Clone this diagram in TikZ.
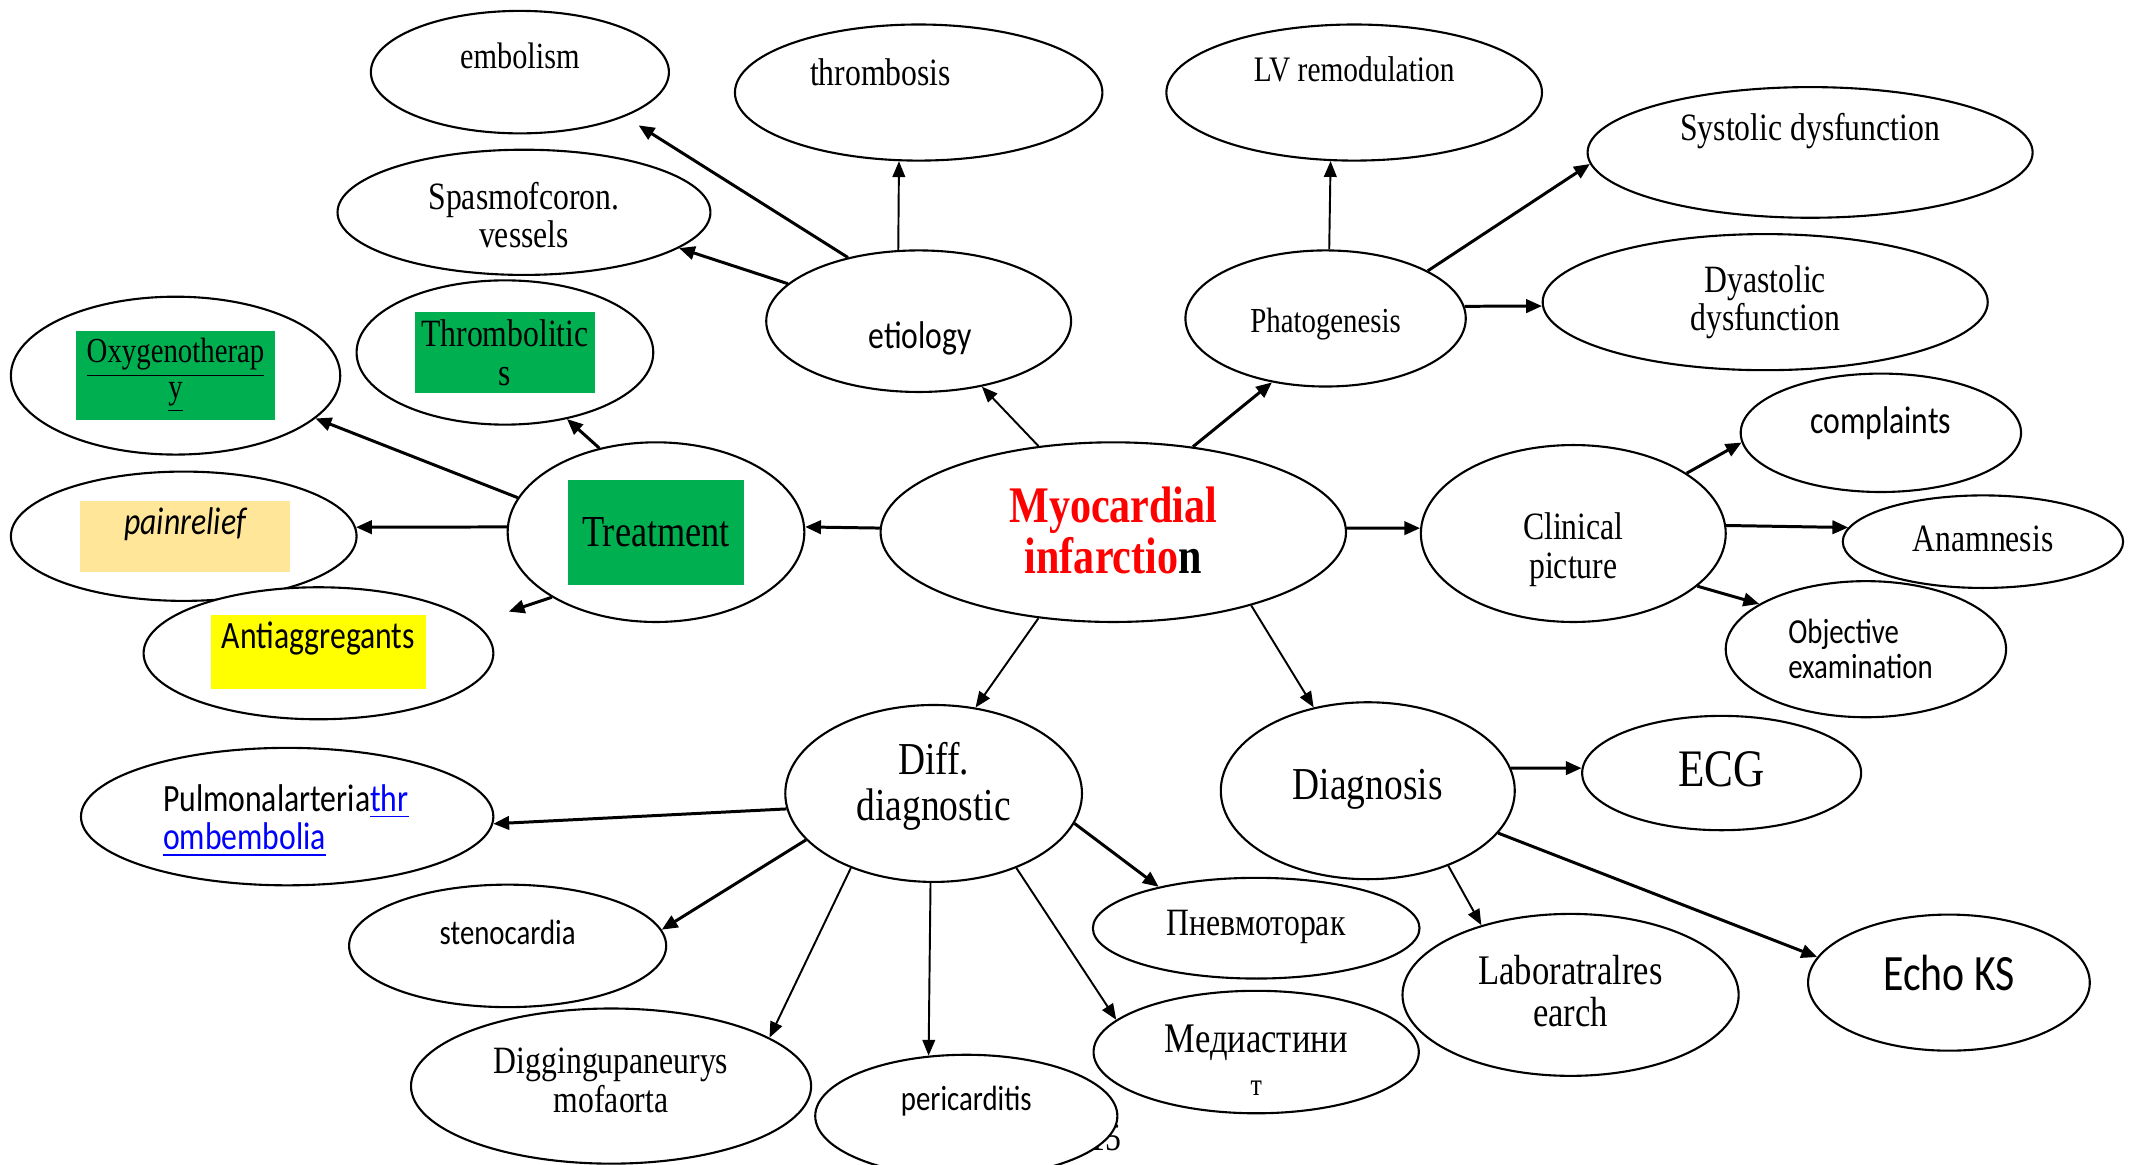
\documentclass[tikz,border=0pt]{standalone}
\usepackage{fontspec}
\setmainfont{Liberation Serif}[FakeStretch=0.82]
\newfontfamily\calib{Carlito}[FakeStretch=0.82]
\usetikzlibrary{shapes.geometric,arrows.meta}
\definecolor{boxgreen}{HTML}{00B050}
\definecolor{boxpeach}{HTML}{FFE699}
\definecolor{boxyellow}{HTML}{FFFF00}
\definecolor{linkblue}{HTML}{0000FF}
\definecolor{mired}{HTML}{FF0000}
\newdimen\pxu \pxu=0.01361cm
\newcommand{\fsz}[1]{\fontsize{#1}{#1}\selectfont}
\tikzset{
  bubble/.style={ellipse, draw=black, line width=0.6pt, fill=white, inner sep=0pt},
  serifLbl/.style={font=\fsz{11}, align=center, inner sep=0pt},
  sansLbl/.style={font=\calib\fsz{11}, align=center, inner sep=0pt},
  colorBox/.style={rectangle, inner sep=0pt, align=center},
  arrowLn/.style={line width=0.85pt, -{Triangle[length=4.5pt,width=3.8pt]}},
  thinArrow/.style={line width=0.55pt, -{Triangle[length=4.5pt,width=3.6pt]}},
}

\begin{document}
\begin{tikzpicture}[x=0.01361cm, y=-0.01361cm]
  \path[use as bounding box, fill=white] (0,0) rectangle (1568,856);

  \node[serifLbl] (pagenum) at (812,836) {15};

  % etiology branch
  \node[bubble, minimum width=219\pxu, minimum height=90\pxu]  (embolism)   at (382,53)  {};
  \node[bubble, minimum width=270\pxu, minimum height=100\pxu] (thrombosis) at (675,68)  {};
  \node[bubble, minimum width=274\pxu, minimum height=92\pxu]  (spasm)      at (385,156) {};
  \node[bubble, minimum width=224\pxu, minimum height=104\pxu] (etiology)   at (675,236) {};

  % pathogenesis branch
  \node[bubble, minimum width=276\pxu, minimum height=100\pxu] (lvremod)   at (995,68)   {};
  \node[bubble, minimum width=327\pxu, minimum height=96\pxu]  (systolic)  at (1330,112) {};
  \node[bubble, minimum width=206\pxu, minimum height=100\pxu] (phatog)    at (974,234)  {};
  \node[bubble, minimum width=327\pxu, minimum height=100\pxu] (dyastolic) at (1297,222) {};

  % treatment branch
  \node[bubble, minimum width=218\pxu, minimum height=106\pxu] (thromb)    at (371,259) {};
  \node[bubble, minimum width=242\pxu, minimum height=116\pxu] (oxygen)    at (129,276) {};
  \node[bubble, minimum width=218\pxu, minimum height=132\pxu] (treatment) at (482,391) {};
  \node[bubble, minimum width=254\pxu, minimum height=95\pxu]  (pain)      at (135,394) {};
  \node[bubble, minimum width=257\pxu, minimum height=97\pxu]  (antiagg)   at (234,480) {};

  \node[bubble, minimum width=342\pxu, minimum height=132\pxu] (myo) at (818,391) {};

  % clinical picture branch
  \node[bubble, minimum width=224\pxu, minimum height=130\pxu] (clinical)   at (1156,392) {};
  \node[bubble, minimum width=206\pxu, minimum height=87\pxu]  (complaints) at (1382,318) {};
  \node[bubble, minimum width=206\pxu, minimum height=68\pxu]  (anamnesis)  at (1457,398) {};
  \node[bubble, minimum width=206\pxu, minimum height=100\pxu] (objective)  at (1371,477) {};

  % diagnosis branch
  \node[bubble, minimum width=216\pxu, minimum height=130\pxu] (diagnosis) at (1005,581) {};
  \node[bubble, minimum width=205\pxu, minimum height=84\pxu]  (ecg)       at (1265,568) {};
  \node[bubble, minimum width=247\pxu, minimum height=119\pxu] (lab)       at (1154,731) {};
  \node[bubble, minimum width=207\pxu, minimum height=100\pxu] (echo)      at (1432,722) {};

  % differential diagnostic branch
  \node[bubble, minimum width=218\pxu, minimum height=130\pxu] (diff)     at (686,583) {};
  \node[bubble, minimum width=303\pxu, minimum height=101\pxu] (pulmonal) at (211,600) {};
  \node[bubble, minimum width=233\pxu, minimum height=90\pxu]  (steno)    at (373,695) {};
  \node[bubble, minimum width=240\pxu, minimum height=74\pxu]  (pneumo)   at (923,682) {};
  \node[bubble, minimum width=294\pxu, minimum height=114\pxu] (digging)  at (449,798) {};
  \node[bubble, minimum width=239\pxu, minimum height=90\pxu]  (mediast)  at (923,773) {};
  \node[bubble, minimum width=222\pxu, minimum height=90\pxu]  (pericard) at (710,820) {};

  % texts
  \node[serifLbl, font=\fsz{10.5}] (embolism-t)   at (382,41)  {embolism};
  \node[serifLbl]                  (thrombosis-t) at (647,53)  {thrombosis};
  \node[serifLbl]                  (spasm-t)      at (385,158) {Spasmofcoron.\\vessels};
  \node[sansLbl]                   (etiology-t)   at (676,249) {etiology};
  \node[serifLbl, font=\fsz{10.2}] (lvremod-t)    at (995,51)  {LV remodulation};
  \node[serifLbl]                  (systolic-t)   at (1330,96) {Systolic dysfunction};
  \node[serifLbl, font=\fsz{10}]   (phatog-t)     at (974,238) {Phatogenesis};
  \node[serifLbl]                  (dyastolic-t)  at (1297,222) {Dyastolic\\dysfunction};

  \node[colorBox, fill=boxgreen, minimum width=132\pxu, minimum height=60\pxu, font=\fsz{11}]
    (thromb-box) at (371,259) {Thrombolitic\\s};
  \node[colorBox, fill=boxgreen, minimum width=146\pxu, minimum height=65\pxu, font=\fsz{10}]
    (oxygen-box) at (129,276) {\underline{Oxygenotherap}\\\underline{y}};
  \node[colorBox, fill=boxgreen, minimum width=130\pxu, minimum height=77\pxu, font=\fsz{12.6}]
    (treatment-box) at (482,391) {Treatment};
  \node[colorBox, fill=boxpeach, minimum width=154\pxu, minimum height=52\pxu] (pain-box) at (136,394) {};
  \node[sansLbl, font=\calib\itshape\fsz{11}] (pain-t) at (136,385) {painrelief};
  \node[colorBox, fill=boxyellow, minimum width=158\pxu, minimum height=54\pxu] (antiagg-box) at (234,479) {};
  \node[sansLbl] (antiagg-t) at (234,469) {Antiaggregants};

  \node[serifLbl, font=\bfseries\fsz{14.6}] (myo-t) at (818,390)
    {\textcolor{mired}{Myocardial}\\\textcolor{mired}{infarctio}n};

  \node[serifLbl]                          (clinical-t)   at (1156,404) {Clinical\\picture};
  \node[sansLbl]                           (complaints-t) at (1382,311) {complaints};
  \node[serifLbl]                          (anamnesis-t)  at (1457,396) {Anamnesis};
  \node[sansLbl, font=\calib\fsz{10}, align=left] (objective-t) at (1367,477) {Objective\\examination};

  \node[serifLbl, font=\fsz{13}] (diagnosis-t) at (1005,580) {Diagnosis};
  \node[serifLbl, font=\fsz{15}] (ecg-t)       at (1265,565) {ECG};
  \node[serifLbl, font=\fsz{12}] (lab-t)       at (1154,728) {Laboratralres\\earch};
  \node[sansLbl, font=\calib\fsz{14.5}] (echo-t) at (1432,715) {Echo KS};

  \node[serifLbl, font=\fsz{13}] (diff-t) at (686,578) {Diff.\\diagnostic};
  \node[sansLbl, align=left] (pulmonal-t) at (210,603)
    {Pulmonalarteria\textcolor{linkblue}{\underline{thr}}\\\textcolor{linkblue}{\underline{ombembolia}}};
  \node[sansLbl, font=\calib\fsz{10}] (steno-t)    at (373,685) {stenocardia};
  \node[serifLbl]                     (pneumo-t)   at (923,681) {Пневмоторак};
  \node[serifLbl]                     (digging-t)  at (449,794) {Diggingupaneurys\\mofaorta};
  \node[sansLbl, font=\calib\fsz{10}] (pericard-t) at (710,809) {pericarditis};
  \node[serifLbl, font=\fsz{12}]      (mediast-t)  at (923,779) {Медиастини\\{\fsz{9}т}};

  % connectors
  \draw[arrowLn, shorten >=12\pxu] (etiology.138) -- (embolism.-23);
  \draw[thinArrow] (etiology.106) -- (thrombosis.-106);
  \draw[arrowLn]   (etiology.164) -- (spasm.-13);
  \draw[thinArrow] (myo.131) -- (etiology.-46);
  \draw[arrowLn]   (myo.47) -- (phatog.-130);
  \draw[thinArrow] (phatog.87) -- (lvremod.-109);
  \draw[arrowLn]   (phatog.25) -- (systolic.-177);
  \draw[arrowLn]   (phatog.5) -- (dyastolic.181);
  \draw[arrowLn]   (myo.1) -- (clinical.178);
  \draw[arrowLn]   (clinical.28) -- (complaints.184);
  \draw[arrowLn]   (clinical.3) -- (anamnesis.174);
  \draw[arrowLn]   (clinical.-23) -- (objective.157);
  \draw[arrowLn]   (myo.179) -- (treatment.2);
  \draw[arrowLn]   (treatment.124) -- (thromb.-47);
  \draw[arrowLn]   (treatment.166) -- (oxygen.-17);
  \draw[arrowLn]   (treatment.178) -- (pain.3);
  \draw[arrowLn, shorten >=26\pxu] (treatment.212) -- (antiagg.11);
  \draw[thinArrow] (myo.229) -- (diff.64);
  \draw[thinArrow] (myo.-28) -- (diagnosis.123);
  \draw[arrowLn]   (diagnosis.9) -- (ecg.178);
  \draw[thinArrow] (diagnosis.-43) -- (lab.142);
  \draw[arrowLn]   (diagnosis.-18) -- (echo.169);
  \draw[arrowLn]   (diff.186) -- (pulmonal.-2);
  \draw[arrowLn]   (diff.200) -- (steno.6);
  \draw[thinArrow] (diff.222) -- (digging.17);
  \draw[thinArrow] (diff.268) -- (pericard.122);
  \draw[arrowLn]   (diff.-12) -- (pneumo.157);
  \draw[thinArrow] (diff.-42) -- (mediast.167);
\end{tikzpicture}
\end{document}
